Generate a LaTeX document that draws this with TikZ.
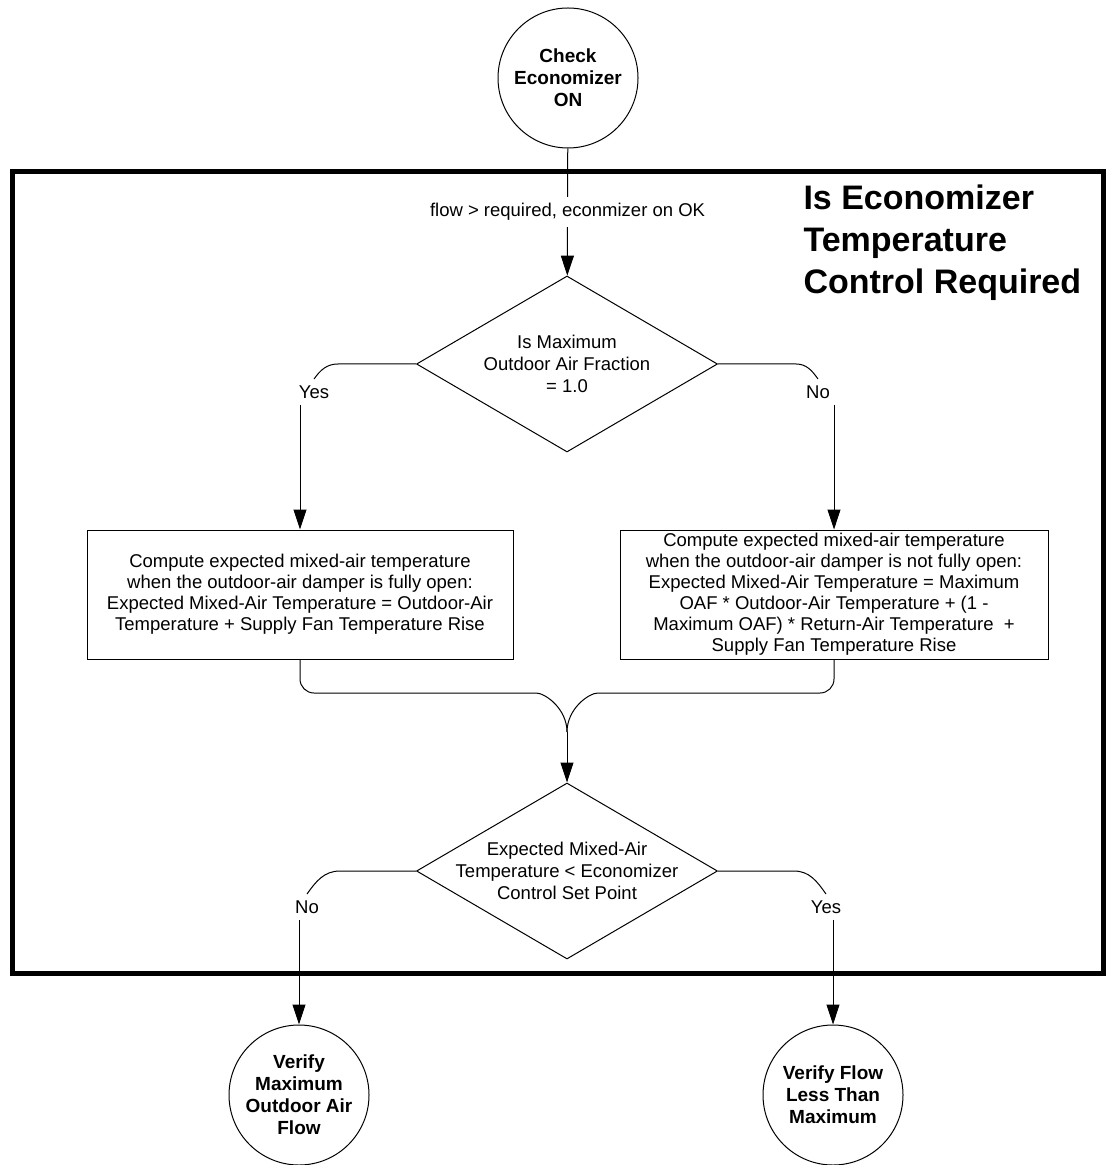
\documentclass[tikz,border=0pt]{standalone}
\usepackage{fontspec}
\setmainfont{Liberation Sans}
\usetikzlibrary{arrows.meta,shapes.geometric}

\begin{document}
\begin{tikzpicture}[x=0.5pt,y=-0.5pt,>={Triangle[length=10pt,width=6.5pt]},line width=0.5pt,
  term node/.style={circle,draw,minimum size=70pt,inner sep=0pt,align=center,font=\bfseries\fontsize{9.5}{11}\selectfont},
  test node/.style={diamond,draw,aspect=1.7,inner xsep=-15pt,inner ysep=0pt,minimum width=150.5pt,minimum height=88pt,align=center,font=\fontsize{9.25}{11}\selectfont},
  calc node/.style={rectangle,draw,minimum height=64.5pt,inner ysep=1pt,align=center,font=\fontsize{9.25}{10.5}\selectfont},
  edge label/.style={fill=white,inner sep=3pt,font=\fontsize{9.25}{11}\selectfont}]

  \useasboundingbox (0,0) rectangle (1110,1165);

  % region of the check
  \draw[line width=2.5pt] (12,172) rectangle (1103,973);
  \node[anchor=north west,inner sep=0pt,align=left,font=\bfseries\fontsize{17}{21}\selectfont]
    (title) at (803,184) {Is Economizer\\Temperature\\Control Required};

  \node[term node] (start) at (568,78) {Check\\Economizer\\ON};
  \node[test node] (maxoaf) at (567,364) {Is Maximum\\Outdoor Air Fraction\\= 1.0};
  \node[calc node,minimum width=213pt] (fullopen) at (300,594.5)
    {Compute expected mixed-air temperature\\when the outdoor-air damper is fully open:\\
     Expected Mixed-Air Temperature = Outdoor-Air\\Temperature + Supply Fan Temperature Rise};
  \node[calc node,minimum width=214pt] (partopen) at (834,594.5)
    {Compute expected mixed-air temperature\\when the outdoor-air damper is not fully open:\\
     Expected Mixed-Air Temperature = Maximum\\OAF * Outdoor-Air Temperature + (1 -\\
     Maximum OAF) * Return-Air Temperature \ +\\Supply Fan Temperature Rise};
  \node[test node] (setpoint) at (567,871) {Expected Mixed-Air\\Temperature < Economizer\\Control Set Point};
  \node[term node] (maxflow) at (299,1095) {Verify\\Maximum\\Outdoor Air\\Flow};
  \node[term node] (lessflow) at (833,1095) {Verify Flow\\Less Than\\Maximum};

  % branch labels
  \node[edge label] (yes1) at (314,392) {Yes};
  \node[edge label] (no1) at (818,392) {No};
  \node[edge label] (no2) at (307,907) {No};
  \node[edge label] (yes2) at (826,907) {Yes};

  \coordinate (joinL) at (522,693);
  \coordinate (joinR) at (612,693);
  \coordinate (merge) at (567,732);

  \draw[->] (start) -- node[edge label] {flow > required, econmizer on OK} (maxoaf);

  \draw (maxoaf.west) -- ++(-78,0) to[out=180,in=55] (yes1.north);
  \draw[->] (yes1.south -| fullopen.north) -- (fullopen.north);
  \draw (maxoaf.east) -- ++(78,0) to[out=0,in=125] (no1.north);
  \draw[->] (no1.south -| partopen.north) -- (partopen.north);

  \draw[rounded corners=7pt] (fullopen.south) |- (joinL) to[out=0,in=90] (merge);
  \draw[rounded corners=7pt] (partopen.south) |- (joinR) to[out=180,in=90] (merge);
  \draw[->] (merge) -- (setpoint.north);

  \draw (setpoint.west) -- ++(-76,0) to[out=180,in=55] (no2.north);
  \draw[->] (no2.south -| maxflow.north) -- (maxflow.north);
  \draw (setpoint.east) -- ++(76,0) to[out=0,in=125] (yes2.north);
  \draw[->] (yes2.south -| lessflow.north) -- (lessflow.north);
\end{tikzpicture}
\end{document}
